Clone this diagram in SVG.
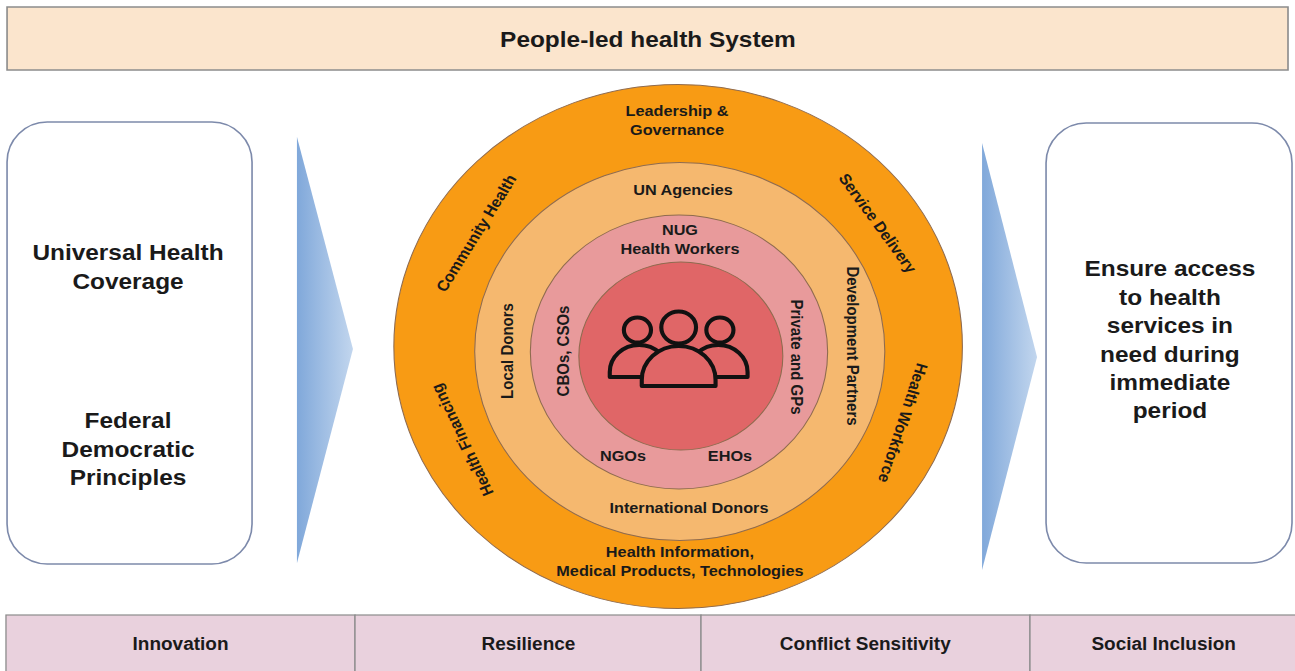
<svg xmlns="http://www.w3.org/2000/svg" width="1295" height="671" viewBox="0 0 1295 671">
<defs>
<linearGradient id="arrowGrad" x1="0" y1="0" x2="1" y2="0">
<stop offset="0" stop-color="#80a8da"/>
<stop offset="1" stop-color="#c2d6ee"/>
</linearGradient>
<style>
text { font-family: "Liberation Sans", Arial, Helvetica, sans-serif; font-weight: bold; fill: #1a1a1a; text-anchor: middle; }
.t22 { font-size: 22.5px; }
.t15 { font-size: 15px; }
.t17 { font-size: 17.5px; }
.box { fill: #ffffff; stroke: #7d8aab; stroke-width: 1.5; }
.bar { fill: #fbe5cd; stroke: #8c8c8c; stroke-width: 1.5; }
.cell { fill: #e9d1dd; stroke: #8c8c8c; stroke-width: 1.2; }
.arrow { fill: url(#arrowGrad); stroke: none; }
.ring { stroke: #8f6b4f; stroke-width: 1; }
.icon { fill: #e06667; stroke: #111111; stroke-width: 3.8; stroke-linejoin: round; }
</style>
</defs>
<rect width="1295" height="671" fill="#ffffff"/>
<g transform="scale(1.085,1)">
  <g id="top-bar">
    <rect class="bar" x="6.5" y="7" width="1180.6" height="63"/>
    <text class="t22" x="597.2" y="47">People-led health System</text>
  </g>
  <g id="left-box">
    <rect class="box" x="6.5" y="122" width="225.8" height="442" rx="37" ry="40"/>
    <text class="t22" x="118" y="260">Universal Health</text>
    <text class="t22" x="118" y="289">Coverage</text>
    <text class="t22" x="118" y="428">Federal</text>
    <text class="t22" x="118" y="457">Democratic</text>
    <text class="t22" x="118" y="485">Principles</text>
  </g>
  <g id="connectors">
    <polygon class="arrow" points="273.7,137 325.3,349 273.7,563"/>
    <polygon class="arrow" points="905.1,143 955.8,357 905.1,570"/>
  </g>
  <g id="right-box">
    <rect class="box" x="964.1" y="123" width="226.7" height="440" rx="37" ry="40"/>
    <text class="t22" x="1078.3" y="276">Ensure access</text>
    <text class="t22" x="1078.3" y="305">to health</text>
    <text class="t22" x="1078.3" y="333">services in</text>
    <text class="t22" x="1078.3" y="362">need during</text>
    <text class="t22" x="1078.3" y="390">immediate</text>
    <text class="t22" x="1078.3" y="418">period</text>
  </g>
  <g id="ring-health-system">
    <circle class="ring" cx="625" cy="346.5" r="262" fill="#f89b14"/>
    <text class="t15" x="624" y="116">Leadership &amp;</text>
    <text class="t15" x="624" y="135">Governance</text>
    <text class="t15" transform="translate(438.7,233) rotate(-60)" x="0" y="5.5">Community Health</text>
    <text class="t15" transform="translate(809.2,223) rotate(56)" x="0" y="5.5">Service Delivery</text>
    <text class="t15" transform="translate(425.8,440) rotate(-114)" x="0" y="5.5">Health Financing</text>
    <text class="t15" transform="translate(832.5,423) rotate(107)" x="0" y="5.5">Health Workforce</text>
    <text class="t15" x="626.7" y="557.5">Health Information,</text>
    <text class="t15" x="626.7" y="576.5">Medical Products, Technologies</text>
  </g>
  <g id="ring-partners">
    <circle class="ring" cx="626.5" cy="351.5" r="189" fill="#f5b86f"/>
    <text class="t15" x="629.5" y="195">UN Agencies</text>
    <text class="t15" transform="translate(467.3,351) rotate(-90)" x="0" y="5.5">Local Donors</text>
    <text class="t15" transform="translate(786.2,346) rotate(90)" x="0" y="5.5">Development Partners</text>
    <text class="t15" x="635" y="513">International Donors</text>
  </g>
  <g id="ring-providers">
    <circle class="ring" cx="625.8" cy="352" r="137" fill="#e89a9b"/>
    <text class="t15" x="626.7" y="235">NUG</text>
    <text class="t15" x="626.7" y="254">Health Workers</text>
    <text class="t15" transform="translate(518.9,351) rotate(-90)" x="0" y="5.5">CBOs, CSOs</text>
    <text class="t15" transform="translate(734.6,357) rotate(90)" x="0" y="5.5">Private and GPs</text>
    <text class="t15" x="574.2" y="461">NGOs</text>
    <text class="t15" x="672.8" y="461">EHOs</text>
  </g>
  <g id="core-people">
    <circle class="ring" cx="627.5" cy="356" r="94" fill="#e06667"/>
    <circle class="icon" cx="587.5" cy="330" r="12.5"/>
    <circle class="icon" cx="663.5" cy="330" r="12.5"/>
    <circle class="icon" cx="625.5" cy="327.5" r="16"/>
    <path class="icon" d="M562,377 V372 A27,27 0 0 1 616,372 V377 Z"/>
    <path class="icon" d="M635,377 V372 A27,27 0 0 1 689,372 V377 Z"/>
    <path class="icon" d="M591.5,386 V380 A34,34 0 0 1 659.5,380 V386 Z"/>
  </g>
  <g id="bottom-bar">
    <g id="cell-innovation">
      <rect class="cell" x="5.5" y="615" width="321.7" height="60"/>
      <text class="t17" x="166.4" y="650">Innovation</text>
    </g>
    <g id="cell-resilience">
      <rect class="cell" x="327.2" y="615" width="318.9" height="60"/>
      <text class="t17" x="487" y="650">Resilience</text>
    </g>
    <g id="cell-conflict">
      <rect class="cell" x="646.1" y="615" width="303.2" height="60"/>
      <text class="t17" x="797.5" y="650">Conflict Sensitivity</text>
    </g>
    <g id="cell-social">
      <rect class="cell" x="949.3" y="615" width="248" height="60"/>
      <text class="t17" x="1072.5" y="650">Social Inclusion</text>
    </g>
  </g>
</g>
</svg>
